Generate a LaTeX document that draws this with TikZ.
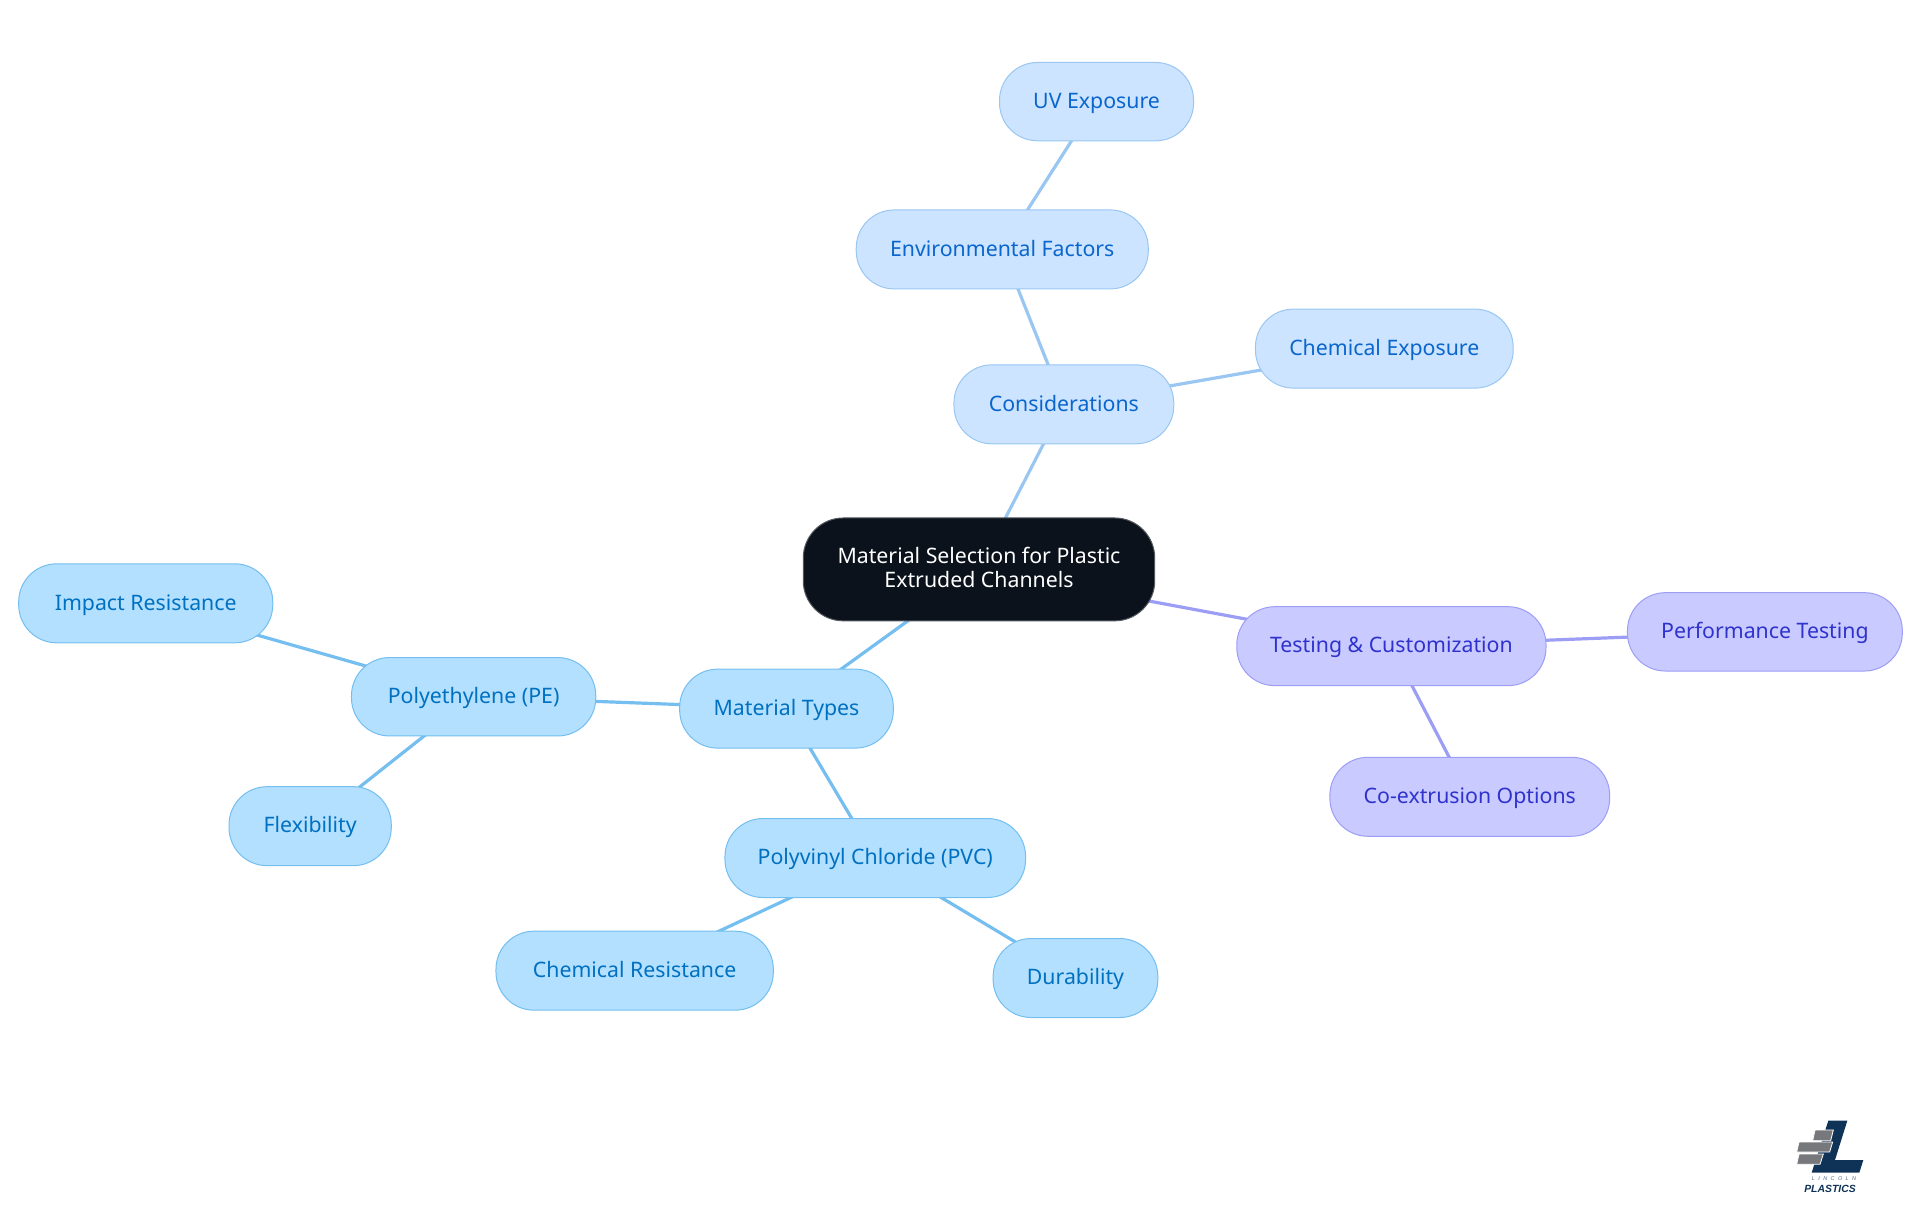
\documentclass[tikz,border=0pt]{standalone}
\usepackage{fontspec}
\setmainfont{Noto Sans}
\newfontfamily\logofont{Liberation Sans}
\usetikzlibrary{backgrounds}
\definecolor{bfill}{HTML}{B3E0FF}\definecolor{bline}{HTML}{74BEF0}\definecolor{btext}{HTML}{0070C0}
\definecolor{cfill}{HTML}{CCE4FF}\definecolor{cline}{HTML}{99C7F2}\definecolor{ctext}{HTML}{0A66CC}
\definecolor{pfill}{HTML}{C9CAFF}\definecolor{pline}{HTML}{9C9EF5}\definecolor{ptext}{HTML}{2F33CC}
\definecolor{rootfill}{HTML}{0B121B}\definecolor{logonavy}{HTML}{0F3257}\definecolor{logogrey}{HTML}{77787B}
\tikzset{
  mind/.style={rectangle,rounded corners=38pt,line width=1pt,align=center,inner sep=0pt,outer sep=0pt,font=\fontsize{21.3}{24}\selectfont},
  leaf/.style={mind,text height=17.4pt,text depth=4pt},
  blue node/.style={leaf,fill=bfill,draw=bline,text=btext},
  sky node/.style={leaf,fill=cfill,draw=cline,text=ctext},
  violet node/.style={leaf,fill=pfill,draw=pline,text=ptext},
  root node/.style={mind,rounded corners=40pt,fill=rootfill,draw=rootfill!70!white,text=white},
  blue edge/.style={draw=bline,line width=3.2pt},
  sky edge/.style={draw=cline,line width=3.2pt},
  violet edge/.style={draw=pline,line width=3.2pt},
  logobar/.style={fill=logogrey,draw=white,line width=0.8pt}
}
\newcommand{\nd}[7]{\node[#6,minimum width={#4*1.2245pt},minimum height={#5*1.2245pt}] (#1) at ({#2*1.2245},{#3*1.2245}) {#7};}
\begin{document}
\begin{tikzpicture}[x=1pt,y=-1pt]
\useasboundingbox (0,0) rectangle (1920,1215);
\nd{root}{799.5}{465}{287}{84}{root node}{Material Selection for Plastic\\Extruded Channels\rule[-5pt]{0pt}{1pt}}
\nd{uv}{895.5}{83}{158.5}{64}{sky node}{UV Exposure}
\nd{env}{818.5}{203.7}{238.5}{64.5}{sky node}{Environmental Factors}
\nd{cons}{868.8}{330.2}{179.5}{64.5}{sky node}{Considerations}
\nd{chem}{1130.5}{284.7}{210.5}{64.5}{sky node}{Chemical Exposure}
\nd{test}{1136.3}{527.7}{252.5}{64.5}{violet node}{Testing \& Customization}
\nd{perf}{1441.3}{516}{224.5}{64}{violet node}{Performance Testing}
\nd{coex}{1200.3}{650.7}{228.5}{64.5}{violet node}{Co-extrusion Options}
\nd{mat}{642.3}{578.7}{174.5}{64.5}{blue node}{Material Types}
\nd{pe}{386.8}{569}{199.5}{64}{blue node}{Polyethylene (PE)}
\nd{imp}{119}{492.7}{207.5}{64.5}{blue node}{Impact Resistance}
\nd{flex}{253.3}{674.7}{132.5}{64.5}{blue node}{Flexibility}
\nd{pvc}{714.8}{700.7}{245.5}{64.5}{blue node}{Polyvinyl Chloride (PVC)}
\nd{cres}{518.3}{792.7}{226.5}{64.5}{blue node}{Chemical Resistance}
\nd{dur}{878.3}{798.7}{134.5}{64.5}{blue node}{Durability}
\begin{scope}[on background layer]
\draw[sky edge] (root.center) -- (cons.center);
\draw[sky edge] (cons.center) -- (env.center);
\draw[sky edge] (env.center) -- (uv.center);
\draw[sky edge] (cons.center) -- (chem.center);
\draw[blue edge] (root.center) -- (mat.center);
\draw[blue edge] (mat.center) -- (pe.center);
\draw[blue edge] (pe.center) -- (imp.center);
\draw[blue edge] (pe.center) -- (flex.center);
\draw[blue edge] (mat.center) -- (pvc.center);
\draw[blue edge] (pvc.center) -- (cres.center);
\draw[blue edge] (pvc.center) -- (dur.center);
\draw[violet edge] (root.center) -- (test.center);
\draw[violet edge] (test.center) -- (perf.center);
\draw[violet edge] (test.center) -- (coex.center);
\end{scope}
\begin{scope}[shift={(1760,1100)},x=0.3333pt,y=-0.3333pt]
\fill[logonavy] (205,62) -- (262,62) -- (225,180) -- (310,180) -- (298,218) -- (155,218) -- cycle;
\filldraw[logobar] (165,90) -- (220,90) -- (212,122) -- (158,122) -- cycle;
\filldraw[logobar] (117,126) -- (218,126) -- (209,156) -- (110,156) -- cycle;
\filldraw[logobar] (117,162) -- (190,162) -- (180,193) -- (110,193) -- cycle;
\node[font=\logofont\fontsize{5.5}{6}\selectfont\itshape,text=logonavy!70!white,inner sep=0pt] (logoa) at (222,236) {L\hspace{3.4pt}I\hspace{3.4pt}N\hspace{3.4pt}C\hspace{3.4pt}O\hspace{3.4pt}L\hspace{3.4pt}N};
\node[font=\logofont\fontsize{10.4}{12}\selectfont\bfseries\itshape,text=logonavy,inner sep=0pt] (logob) at (210,266) {PLASTICS};
\end{scope}
\end{tikzpicture}
\end{document}
